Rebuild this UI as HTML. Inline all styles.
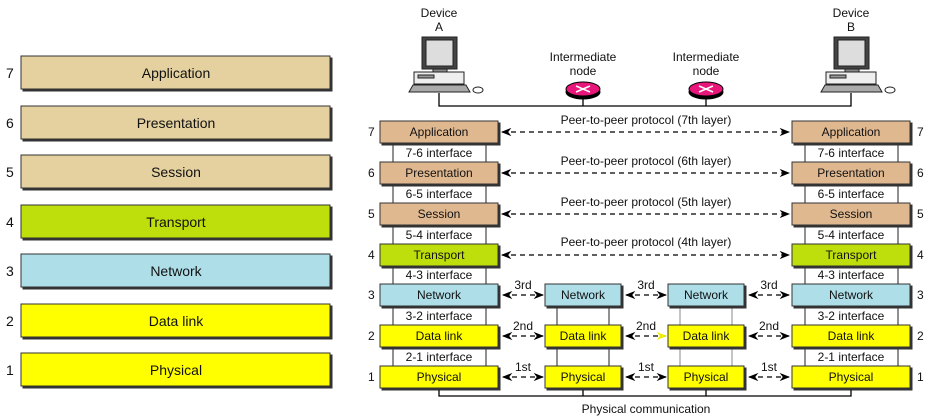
<!DOCTYPE html>
<html><head><style>body{margin:0;background:#fff}svg{display:block}text{font-family:"Liberation Sans",sans-serif;font-size:12px;fill:#111}text.b{font-size:14px}</style></head><body>
<svg width="931" height="418" viewBox="0 0 931 418">
<defs>
<marker id="a" viewBox="0 0 10 10" refX="9" refY="5" markerWidth="8" markerHeight="8" orient="auto-start-reverse"><path d="M0,1 L10,5 L0,9 L3,5z" fill="#000"/></marker>
<marker id="ay" viewBox="0 0 10 10" refX="9" refY="5" markerWidth="8" markerHeight="8" orient="auto"><path d="M0,1 L10,5 L0,9 L3,5z" fill="#ee0"/></marker>
</defs>
<g id="left">
<g stroke="#333" stroke-width="1">
<rect x="23" y="58" width="309" height="33" fill="#333"/><rect x="21" y="56" width="309" height="33" fill="#e5d19f"/>
<rect x="23" y="108" width="309" height="33" fill="#333"/><rect x="21" y="106" width="309" height="33" fill="#e5d19f"/>
<rect x="23" y="157" width="309" height="33" fill="#333"/><rect x="21" y="155" width="309" height="33" fill="#e5d19f"/>
<rect x="23" y="207" width="309" height="33" fill="#333"/><rect x="21" y="205" width="309" height="33" fill="#bfdf0c"/>
<rect x="23" y="256" width="309" height="33" fill="#333"/><rect x="21" y="254" width="309" height="33" fill="#aedfe9"/>
<rect x="23" y="306" width="309" height="33" fill="#333"/><rect x="21" y="304" width="309" height="33" fill="#ffff00"/>
<rect x="23" y="355" width="309" height="33" fill="#333"/><rect x="21" y="353" width="309" height="33" fill="#ffff00"/>
</g>
<g text-anchor="middle">
<text class="b" x="176" y="78">Application</text><text class="b" x="176" y="128">Presentation</text><text class="b" x="176" y="177">Session</text><text class="b" x="176" y="227">Transport</text><text class="b" x="176" y="276">Network</text><text class="b" x="176" y="326">Data link</text><text class="b" x="176" y="375">Physical</text>
</g>
<g><text class="b" x="6" y="78">7</text><text class="b" x="6" y="128">6</text><text class="b" x="6" y="177">5</text><text class="b" x="6" y="227">4</text><text class="b" x="6" y="276">3</text><text class="b" x="6" y="326">2</text><text class="b" x="6" y="375">1</text></g>
</g>

<g text-anchor="middle">
<text x="439" y="17">Device</text><text x="439" y="31">A</text>
<text x="851" y="17">Device</text><text x="851" y="31">B</text>
<text x="583" y="61">Intermediate</text><text x="583" y="75">node</text>
<text x="706" y="61">Intermediate</text><text x="706" y="75">node</text>
</g>
<g id="pc" stroke="#222" stroke-width="1">
<rect x="422" y="37" width="35" height="32" fill="#444"/><rect x="426" y="40" width="27" height="26" fill="#ddd"/>
<rect x="433" y="69" width="14" height="3" fill="#888"/>
<rect x="414" y="72" width="50" height="12" fill="#eee"/><rect x="418" y="75" width="16" height="3" fill="#999"/>
<path d="M409 92 L413 85 L466 85 L470 92z" fill="#aaa"/><ellipse cx="478" cy="90" rx="5" ry="3" fill="#fff"/>
</g>
<use href="#pc" x="412"/>
<path d="M439 93 V106 H851 V93 M583 96 V106 M706 96 V106" stroke="#000" fill="none" stroke-width="1.3"/>
<g stroke="#000">
<ellipse cx="583" cy="92" rx="17" ry="7" fill="#000"/><ellipse cx="583" cy="89" rx="17" ry="7" fill="#e8167a"/>
<ellipse cx="706" cy="92" rx="17" ry="7" fill="#000"/><ellipse cx="706" cy="89" rx="17" ry="7" fill="#e8167a"/>
</g>
<path d="M576 86 L590 92 M576 92 L590 86 M699 86 L713 92 M699 92 L713 86" stroke="#fff" stroke-width="1.5"/>

<g fill="#fff" stroke="#222">
<rect x="393" y="140" width="93" height="230"/>
<rect x="805" y="140" width="93" height="230"/>
<rect x="557" y="300" width="52" height="70"/>
<rect x="680" y="300" width="52" height="70" stroke="#888"/>
</g>
<g text-anchor="middle">
<text x="439" y="157">7-6 interface</text><text x="439" y="198">6-5 interface</text><text x="439" y="239">5-4 interface</text><text x="439" y="279">4-3 interface</text><text x="439" y="320">3-2 interface</text><text x="439" y="361">2-1 interface</text>
<text x="851" y="157">7-6 interface</text><text x="851" y="198">6-5 interface</text><text x="851" y="239">5-4 interface</text><text x="851" y="279">4-3 interface</text><text x="851" y="320">3-2 interface</text><text x="851" y="361">2-1 interface</text>
</g>
<g stroke="#333">
<g fill="#333">
<rect x="382" y="123" width="118" height="22"/><rect x="382" y="164" width="118" height="22"/><rect x="382" y="205" width="118" height="22"/><rect x="382" y="246" width="118" height="22"/><rect x="382" y="286" width="118" height="22"/><rect x="382" y="327" width="118" height="22"/><rect x="382" y="368" width="118" height="22"/>
<rect x="794" y="123" width="118" height="22"/><rect x="794" y="164" width="118" height="22"/><rect x="794" y="205" width="118" height="22"/><rect x="794" y="246" width="118" height="22"/><rect x="794" y="286" width="118" height="22"/><rect x="794" y="327" width="118" height="22"/><rect x="794" y="368" width="118" height="22"/>
<rect x="547" y="286" width="76" height="22"/><rect x="547" y="327" width="76" height="22"/><rect x="547" y="368" width="76" height="22"/>
<rect x="670" y="286" width="76" height="22"/><rect x="670" y="327" width="76" height="22"/><rect x="670" y="368" width="76" height="22"/>
</g>
<rect x="380" y="121" width="118" height="22" fill="#e0b890"/><rect x="380" y="162" width="118" height="22" fill="#e0b890"/><rect x="380" y="203" width="118" height="22" fill="#e0b890"/><rect x="380" y="244" width="118" height="22" fill="#bfdf0c"/><rect x="380" y="284" width="118" height="22" fill="#aedfe9"/><rect x="380" y="325" width="118" height="22" fill="#ffff00"/><rect x="380" y="366" width="118" height="22" fill="#ffff00"/>
<rect x="792" y="121" width="118" height="22" fill="#e0b890"/><rect x="792" y="162" width="118" height="22" fill="#e0b890"/><rect x="792" y="203" width="118" height="22" fill="#e0b890"/><rect x="792" y="244" width="118" height="22" fill="#bfdf0c"/><rect x="792" y="284" width="118" height="22" fill="#aedfe9"/><rect x="792" y="325" width="118" height="22" fill="#ffff00"/><rect x="792" y="366" width="118" height="22" fill="#ffff00"/>
<rect x="545" y="284" width="76" height="22" fill="#aedfe9"/><rect x="545" y="325" width="76" height="22" fill="#ffff00"/><rect x="545" y="366" width="76" height="22" fill="#ffff00"/>
<rect x="668" y="284" width="76" height="22" fill="#aedfe9"/><rect x="668" y="325" width="76" height="22" fill="#ffff00"/><rect x="668" y="366" width="76" height="22" fill="#ffff00"/>
</g>
<g text-anchor="middle">
<text x="439" y="136">Application</text><text x="439" y="177">Presentation</text><text x="439" y="218">Session</text><text x="439" y="259">Transport</text><text x="439" y="299">Network</text><text x="439" y="340">Data link</text><text x="439" y="381">Physical</text>
<text x="851" y="136">Application</text><text x="851" y="177">Presentation</text><text x="851" y="218">Session</text><text x="851" y="259">Transport</text><text x="851" y="299">Network</text><text x="851" y="340">Data link</text><text x="851" y="381">Physical</text>
<text x="583" y="299">Network</text><text x="583" y="340">Data link</text><text x="583" y="381">Physical</text>
<text x="706" y="299">Network</text><text x="706" y="340">Data link</text><text x="706" y="381">Physical</text>
<text x="646" y="124">Peer-to-peer protocol (7th layer)</text><text x="646" y="165">Peer-to-peer protocol (6th layer)</text><text x="646" y="206">Peer-to-peer protocol (5th layer)</text><text x="646" y="246">Peer-to-peer protocol (4th layer)</text>
<text x="523" y="289">3rd</text><text x="646" y="289">3rd</text><text x="769" y="289">3rd</text>
<text x="523" y="330">2nd</text><text x="646" y="330">2nd</text><text x="769" y="330">2nd</text>
<text x="523" y="371">1st</text><text x="646" y="371">1st</text><text x="769" y="371">1st</text>
<text x="646" y="413">Physical communication</text>
</g>
<g>
<text x="368" y="136">7</text><text x="368" y="177">6</text><text x="368" y="218">5</text><text x="368" y="259">4</text><text x="368" y="299">3</text><text x="368" y="340">2</text><text x="368" y="381">1</text>
<text x="917" y="136">7</text><text x="917" y="177">6</text><text x="917" y="218">5</text><text x="917" y="259">4</text><text x="917" y="299">3</text><text x="917" y="340">2</text><text x="917" y="381">1</text>
</g>
<g stroke="#000" stroke-width="1.3" stroke-dasharray="5,4" marker-start="url(#a)" marker-end="url(#a)">
<line x1="502" y1="132" x2="789" y2="132"/><line x1="502" y1="173" x2="789" y2="173"/><line x1="502" y1="214" x2="789" y2="214"/><line x1="502" y1="255" x2="789" y2="255"/>
<line x1="503" y1="295" x2="543" y2="295"/><line x1="626" y1="295" x2="666" y2="295"/><line x1="749" y1="295" x2="789" y2="295"/>
<line x1="503" y1="336" x2="543" y2="336"/><line x1="749" y1="336" x2="789" y2="336"/>
<line x1="503" y1="377" x2="543" y2="377"/><line x1="626" y1="377" x2="666" y2="377"/><line x1="749" y1="377" x2="789" y2="377"/>
</g>
<line x1="626" y1="336" x2="666" y2="336" stroke="#000" stroke-width="1.3" stroke-dasharray="5,4" marker-start="url(#a)" marker-end="url(#ay)"/>
<path d="M439 390 V396 H851 V390 M583 390 V396 M706 390 V396" stroke="#000" fill="none" stroke-width="1.3"/>
</svg>
</body></html>
